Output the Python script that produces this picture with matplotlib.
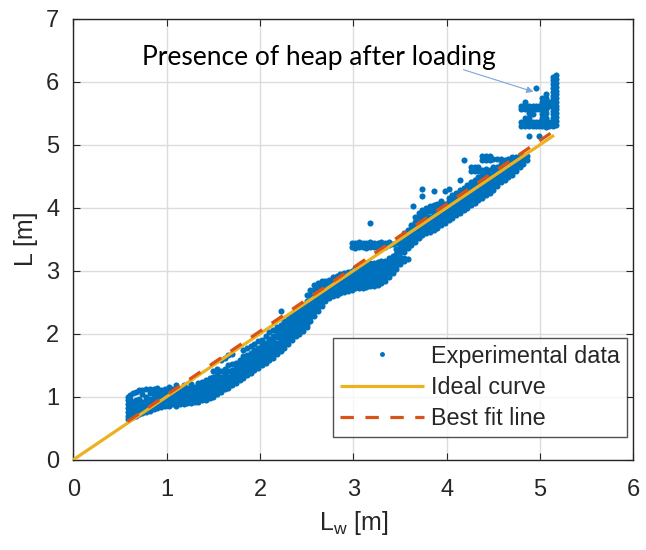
import matplotlib
matplotlib.use("Agg")
import matplotlib.pyplot as plt

# ---------------- data ----------------
# experimental data, given as columns: (L_w, [L values])
band_start = [
    (0.58, [0.64, 0.70, 0.76, 0.82, 0.88, 0.94, 1.00]),
    (0.61, [0.66, 0.72, 0.78, 0.84, 0.90, 0.96, 1.02]),
    (0.64, [0.68, 0.74, 0.80, 0.86, 0.92, 1.06]),
    (0.67, [0.70, 0.76, 0.82, 0.88, 0.94, 1.08]),
    (0.70, [0.72, 0.78, 0.84, 0.90, 0.96, 1.10]),
    (0.74, [0.74, 0.80, 0.86, 0.92, 1.04, 1.10]),
    (0.78, [0.76, 0.82, 0.88, 0.94, 1.00, 1.12]),
    (0.82, [0.78, 0.84, 0.90, 0.96, 1.06, 1.12]),
    (0.86, [0.80, 0.86, 0.92, 0.98, 1.04, 1.12]),
    (0.90, [0.82, 0.88, 0.94, 1.00, 1.08, 1.14]),
    (0.94, [0.84, 0.90, 0.96, 1.02, 1.10]),
    (0.98, [0.86, 0.92, 0.98, 1.04, 1.12]),
    (1.02, [0.86, 0.92, 0.98, 1.04, 1.10, 1.16]),
    (1.06, [0.88, 0.94, 1.00, 1.06, 1.12]),
    (1.10, [0.86, 0.92, 0.98, 1.04, 1.10, 1.18]),
    (1.14, [0.88, 0.94, 1.00, 1.06, 1.12]),
    (1.18, [0.88, 0.94, 1.00, 1.06, 1.12, 1.18]),
    (1.22, [0.90, 0.96, 1.02, 1.08, 1.14]),
    (1.26, [0.90, 0.96, 1.02, 1.08, 1.14, 1.20]),
    (1.30, [0.92, 0.98, 1.04, 1.10, 1.16]),
    (1.34, [0.92, 0.98, 1.04, 1.10, 1.16, 1.22]),
    (1.38, [0.94, 1.00, 1.06, 1.12, 1.18, 1.24]),
    (1.42, [0.94, 1.00, 1.06, 1.12, 1.18, 1.26]),
    (1.46, [0.98, 1.04, 1.10, 1.16, 1.22, 1.30]),
]
band_lower = [
    (1.50, [1.00, 1.06, 1.12, 1.18, 1.24, 1.32, 1.40]),
    (1.54, [1.04, 1.10, 1.16, 1.22, 1.28, 1.36, 1.44]),
    (1.58, [1.08, 1.14, 1.20, 1.26, 1.32, 1.40, 1.58]),
    (1.62, [1.12, 1.18, 1.24, 1.30, 1.36, 1.44, 1.62]),
    (1.66, [1.14, 1.20, 1.26, 1.32, 1.40, 1.50, 1.66]),
    (1.70, [1.18, 1.24, 1.30, 1.36, 1.42, 1.52, 1.68]),
    (1.74, [1.22, 1.28, 1.34, 1.40, 1.46, 1.54]),
    (1.78, [1.26, 1.32, 1.38, 1.44, 1.50, 1.58]),
    (1.82, [1.30, 1.36, 1.42, 1.48, 1.56, 1.64, 1.74]),
    (1.86, [1.34, 1.40, 1.46, 1.52, 1.58, 1.66, 1.78]),
    (1.90, [1.38, 1.44, 1.50, 1.56, 1.62, 1.70, 1.80]),
    (1.94, [1.42, 1.48, 1.54, 1.60, 1.66, 1.74, 1.84]),
    (1.98, [1.46, 1.52, 1.58, 1.64, 1.70, 1.78, 1.88]),
    (2.02, [1.50, 1.56, 1.62, 1.68, 1.74, 1.82, 1.90]),
    (2.06, [1.54, 1.60, 1.66, 1.72, 1.78, 1.86, 1.96]),
    (2.10, [1.58, 1.64, 1.70, 1.76, 1.84, 1.92, 2.02]),
    (2.14, [1.62, 1.68, 1.74, 1.80, 1.88, 1.96, 2.06]),
    (2.18, [1.68, 1.74, 1.80, 1.86, 1.94, 2.02, 2.10]),
    (2.22, [1.72, 1.78, 1.84, 1.90, 1.98, 2.06, 2.14, 2.36]),
    (2.26, [1.78, 1.84, 1.90, 1.96, 2.04, 2.12, 2.20]),
    (2.30, [1.84, 1.90, 1.96, 2.02, 2.10, 2.18, 2.26]),
    (2.34, [1.90, 1.96, 2.02, 2.08, 2.16, 2.24, 2.30]),
    (2.38, [1.96, 2.02, 2.08, 2.14, 2.22, 2.30, 2.36]),
    (2.42, [2.00, 2.06, 2.12, 2.18, 2.26, 2.34, 2.42]),
    (2.46, [2.04, 2.10, 2.16, 2.22, 2.30, 2.38, 2.46]),
]
band_mid = [
    (2.50, [2.10, 2.16, 2.22, 2.28, 2.36, 2.44, 2.52, 2.62]),
    (2.54, [2.20, 2.26, 2.32, 2.38, 2.46, 2.54, 2.62, 2.70]),
    (2.58, [2.28, 2.34, 2.40, 2.46, 2.54, 2.62, 2.70, 2.78]),
    (2.62, [2.36, 2.42, 2.48, 2.56, 2.64, 2.72, 2.80]),
    (2.66, [2.44, 2.50, 2.56, 2.62, 2.70, 2.78, 2.84]),
    (2.70, [2.52, 2.58, 2.64, 2.70, 2.76, 2.84]),
    (2.74, [2.56, 2.62, 2.68, 2.74, 2.80, 2.86]),
    (2.78, [2.60, 2.66, 2.72, 2.78, 2.84, 2.90]),
    (2.82, [2.62, 2.68, 2.74, 2.80, 2.86, 2.92]),
    (2.86, [2.64, 2.70, 2.76, 2.82, 2.88, 2.94]),
    (2.90, [2.66, 2.72, 2.78, 2.84, 2.90, 2.96]),
    (2.94, [2.68, 2.74, 2.80, 2.86, 2.92, 2.98]),
    (2.98, [2.70, 2.76, 2.82, 2.88, 2.94, 3.00, 3.38, 3.44]),
    (3.02, [2.72, 2.78, 2.84, 2.90, 2.96, 3.04, 3.36, 3.44]),
    (3.06, [2.72, 2.78, 2.84, 2.90, 2.96, 3.04, 3.38, 3.46]),
    (3.10, [2.72, 2.78, 2.84, 2.90, 2.96, 3.02, 3.08, 3.38, 3.44]),
    (3.14, [2.74, 2.80, 2.86, 2.92, 2.98, 3.04, 3.10, 3.36, 3.44]),
    (3.18, [2.76, 2.82, 2.88, 2.94, 3.00, 3.06, 3.12, 3.38, 3.46, 3.76]),
    (3.22, [2.76, 2.82, 2.88, 2.94, 3.00, 3.06, 3.12, 3.38, 3.44]),
    (3.26, [2.78, 2.84, 2.90, 2.96, 3.02, 3.08, 3.14, 3.36, 3.44]),
    (3.30, [2.80, 2.86, 2.92, 2.98, 3.04, 3.10, 3.16, 3.38, 3.46]),
    (3.34, [2.84, 2.90, 2.96, 3.02, 3.08, 3.16, 3.38, 3.44]),
    (3.38, [2.90, 2.96, 3.02, 3.08, 3.14, 3.20, 3.40, 3.46]),
    (3.42, [2.96, 3.02, 3.08, 3.14, 3.18, 3.24, 3.42]),
    (3.46, [3.02, 3.08, 3.14, 3.18, 3.26, 3.34, 3.44]),
]
band_upper = [
    (3.50, [3.10, 3.16, 3.22, 3.30, 3.38, 3.46, 3.54]),
    (3.54, [3.16, 3.20, 3.30, 3.36, 3.44, 3.52, 3.60]),
    (3.58, [3.18, 3.36, 3.42, 3.48, 3.56, 3.64]),
    (3.62, [3.40, 3.46, 3.52, 3.58, 3.66, 3.72]),
    (3.64, [4.02]),
    (3.66, [3.46, 3.52, 3.58, 3.64, 3.70, 3.78, 3.86]),
    (3.70, [3.52, 3.58, 3.64, 3.70, 3.76, 3.84, 3.92]),
    (3.74, [3.56, 3.62, 3.68, 3.74, 3.80, 3.88, 3.96, 4.18, 4.30]),
    (3.78, [3.60, 3.66, 3.72, 3.78, 3.84, 3.92, 4.00]),
    (3.82, [3.62, 3.68, 3.74, 3.80, 3.86, 3.94, 4.02]),
    (3.86, [3.64, 3.70, 3.76, 3.82, 3.88, 3.96, 4.04, 4.26]),
    (3.90, [3.68, 3.74, 3.80, 3.86, 3.92, 3.98, 4.06]),
    (3.94, [3.72, 3.78, 3.84, 3.90, 3.96, 4.02, 4.10]),
    (3.98, [3.76, 3.82, 3.88, 3.94, 4.00, 4.06, 4.26]),
    (4.02, [3.80, 3.86, 3.92, 3.98, 4.04, 4.10, 4.16, 4.30]),
    (4.06, [3.84, 3.90, 3.96, 4.02, 4.08, 4.14, 4.20]),
    (4.10, [3.88, 3.94, 4.00, 4.06, 4.12, 4.18, 4.24]),
    (4.14, [3.92, 3.98, 4.04, 4.10, 4.16, 4.22, 4.28, 4.44]),
    (4.18, [3.96, 4.02, 4.08, 4.14, 4.20, 4.26, 4.32, 4.76]),
    (4.22, [4.00, 4.06, 4.12, 4.18, 4.24, 4.30, 4.36]),
    (4.26, [4.04, 4.10, 4.16, 4.22, 4.28, 4.34, 4.40, 4.58, 4.64]),
    (4.30, [4.08, 4.14, 4.20, 4.26, 4.32, 4.38, 4.44, 4.58, 4.64]),
    (4.34, [4.12, 4.18, 4.24, 4.30, 4.36, 4.42, 4.48, 4.58, 4.64]),
    (4.38, [4.16, 4.22, 4.28, 4.34, 4.40, 4.46, 4.52, 4.60, 4.76, 4.82]),
    (4.42, [4.20, 4.26, 4.32, 4.38, 4.44, 4.50, 4.56, 4.62, 4.76, 4.82]),
    (4.46, [4.24, 4.30, 4.36, 4.42, 4.48, 4.54, 4.60, 4.76, 4.82]),
    (4.50, [4.28, 4.34, 4.40, 4.46, 4.52, 4.58, 4.64, 4.78]),
    (4.54, [4.34, 4.40, 4.46, 4.52, 4.58, 4.64, 4.78]),
    (4.58, [4.40, 4.46, 4.52, 4.58, 4.64, 4.70, 4.78]),
    (4.62, [4.44, 4.50, 4.56, 4.62, 4.68, 4.76]),
    (4.66, [4.48, 4.54, 4.60, 4.66, 4.72, 4.78]),
    (4.70, [4.52, 4.58, 4.64, 4.70, 4.76, 4.80]),
    (4.74, [4.58, 4.64, 4.70, 4.76, 4.80]),
    (4.78, [4.64, 4.70, 4.76, 4.82]),
    (4.82, [4.70, 4.76, 4.82]),
    (4.86, [4.76, 4.82]),
]
heap = [
    (4.80, [5.30, 5.36, 5.56, 5.62]),
    (4.84, [5.30, 5.36, 5.42, 5.56, 5.62, 5.68]),
    (4.88, [5.14, 5.30, 5.36, 5.42, 5.50, 5.56, 5.62]),
    (4.92, [5.30, 5.36, 5.48, 5.56, 5.62]),
    (4.96, [5.30, 5.36, 5.56, 5.62, 5.90]),
    (4.99, [5.14, 5.30, 5.36, 5.56, 5.62]),
    (5.02, [5.30, 5.36, 5.42, 5.48, 5.56, 5.62, 5.68, 5.74]),
    (5.06, [5.28, 5.36, 5.42, 5.50, 5.56, 5.62, 5.68, 5.74, 5.80]),
    (5.10, [5.30, 5.36, 5.62, 5.68]),
    (5.14, [5.30, 5.36, 5.42, 5.48, 5.54, 5.60, 5.66, 5.72, 5.78, 5.84,
            5.90, 5.96, 6.02, 6.08]),
    (5.17, [5.32, 5.38, 5.44, 5.50, 5.56, 5.62, 5.68, 5.74, 5.80, 5.86,
            5.92, 5.98, 6.04, 6.10]),
]

ideal_x = [0.0, 5.15]
ideal_y = [0.0, 5.15]
fit_x = [0.58, 5.17]
fit_y = [0.606, 5.24]

x_ticks = [0, 1, 2, 3, 4, 5, 6]
y_ticks = [0, 1, 2, 3, 4, 5, 6, 7]

legend_labels = ["Experimental data", "Ideal curve", "Best fit line"]
annotation_text = "Presence of heap after loading"
annotation_pos = (0.73, 6.26)
arrow_tail = (4.18, 6.19)
arrow_head = (4.93, 5.84)

# ---------------- style ----------------
C_BLUE = "#0072BD"
C_YEL = "#EDB120"
C_RED = "#D95319"
C_AX = "#262626"

plt.rcParams["font.family"] = ["Liberation Sans", "DejaVu Sans"]

exp_x, exp_y = [], []
for group in (band_start, band_lower, band_mid, band_upper, heap):
    for xv, ys in group:
        for yv in ys:
            exp_x.append(xv)
            exp_y.append(yv)

fig = plt.figure(figsize=(6.46, 5.50), dpi=100)
ax = fig.add_axes([0.1136, 0.1642, 0.8669, 0.8018])

h_exp, = ax.plot(exp_x, exp_y, linestyle="none", marker="o", markersize=4.4,
                 markeredgewidth=0, color=C_BLUE, zorder=3)
h_ideal, = ax.plot(ideal_x, ideal_y, color=C_YEL, lw=2.3, zorder=4,
                   solid_capstyle="butt")
h_fit, = ax.plot(fit_x, fit_y, color=C_RED, lw=2.3, zorder=5,
                 linestyle=(0, (4.2, 3.6)))

ax.set_xlim(0, 6)
ax.set_ylim(0, 7)
ax.set_xticks(x_ticks)
ax.set_yticks(y_ticks)
ax.grid(True, color="#dcdcdc", lw=1.0)
ax.set_axisbelow(True)
ax.tick_params(direction="in", top=True, right=True, length=5, width=0.8,
               labelsize=17, colors=C_AX)
ax.tick_params(axis="x", pad=14)
ax.tick_params(axis="y", pad=10)
for sp in ax.spines.values():
    sp.set_color(C_AX)
    sp.set_linewidth(1.0)

ax.set_xlabel(r"L$_\mathregular{w}$ [m]", fontsize=18, color=C_AX, labelpad=6)
ax.set_ylabel("L [m]", fontsize=18, color=C_AX, labelpad=6)

leg = ax.legend([h_exp, h_ideal, h_fit], legend_labels, loc="lower right",
                bbox_to_anchor=(0.9886, 0.0515), borderaxespad=0,
                fontsize=16.8, frameon=True, fancybox=False, handlelength=3.6,
                handletextpad=0.3, borderpad=0.3, labelspacing=0.35,
                markerscale=0.8)
leg.get_frame().set_edgecolor(C_AX)
leg.get_frame().set_linewidth(1.0)
for t in leg.get_texts():
    t.set_color(C_AX)

ax.text(annotation_pos[0], annotation_pos[1], annotation_text,
        fontsize=19, family=["Lato", "DejaVu Sans"], color="black",
        ha="left", va="baseline", zorder=6)
ax.annotate("", xy=arrow_head, xytext=arrow_tail,
            arrowprops=dict(arrowstyle="-|>", color="#7fa6d6", lw=0.8,
                            shrinkA=0, shrinkB=0, mutation_scale=10))

fig.savefig("out.png", dpi=100)
